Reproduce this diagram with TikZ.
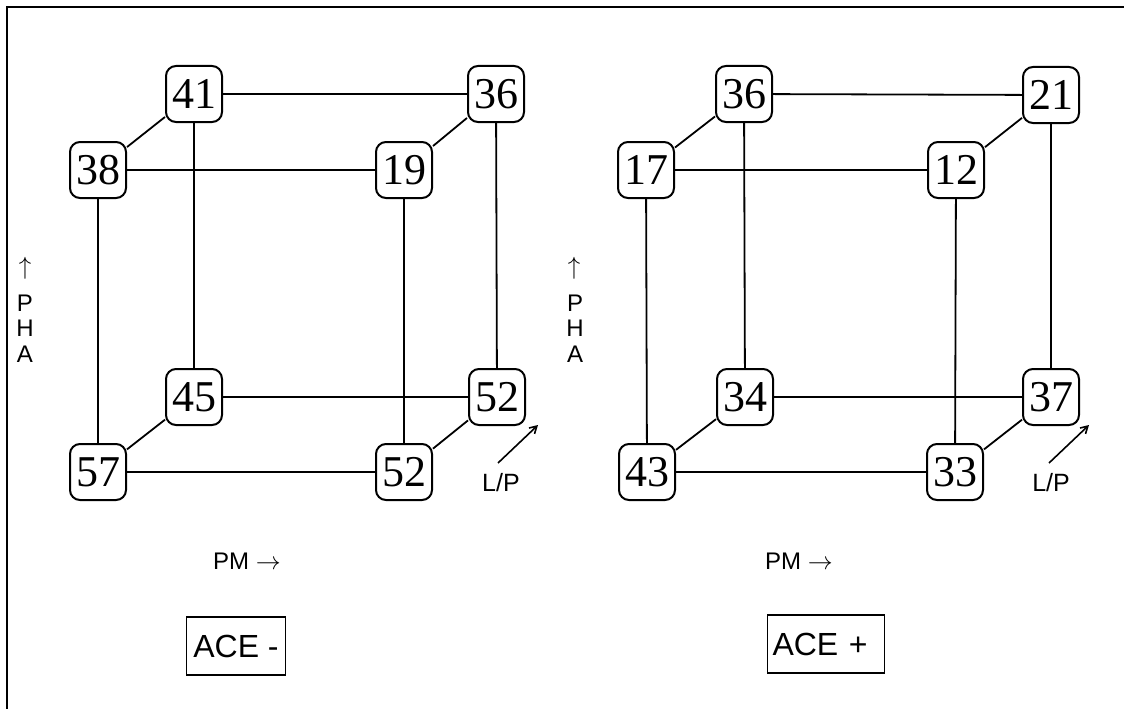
\documentclass[tikz,border=0pt]{standalone}
\usepackage{fontspec}
\setmainfont{Liberation Serif}
\newfontfamily\labelfont{Liberation Sans}
\usetikzlibrary{arrows.meta}
\begin{document}
\begin{tikzpicture}[x=1pt,y=-1pt,
  num/.style={draw, line width=2pt, rounded corners=10pt, minimum width=56pt, minimum height=56pt, inner sep=0pt, font=\fontsize{44}{44}\selectfont},
  edge/.style={line width=1.8pt},
  lbl/.style={font=\labelfont\fontsize{24}{24}\selectfont, inner sep=0pt},
  arr/.style={font=\fontsize{32}{32}\selectfont, inner sep=0pt},
  lparrow/.style={line width=1.6pt, -{Straight Barb[length=7pt,width=8pt]}},
  acebox/.style={draw, line width=1.8pt, minimum height=58pt, inner xsep=5pt, align=left, font=\labelfont\fontsize{32}{32}\selectfont}]
\useasboundingbox (0,0) rectangle (1124,709);
% frame
\draw[line width=2pt] (7,709) -- (7,7) -- (1124,7);

% ---------------- left cube ----------------
\node[num] (a41) at (194,94) {41};
\node[num] (a36) at (496,94) {36};
\node[num] (a38) at (98,170) {38};
\node[num] (a19) at (404,170) {19};
\node[num] (a45) at (194,397) {45};
\node[num] (a52b) at (497,397) {52};
\node[num] (a57) at (98,472) {57};
\node[num] (a52f) at (404,472) {52};
\draw[edge] (a41) -- (a36);
\draw[edge] (a38) -- (a19);
\draw[edge] (a41) -- (a38);
\draw[edge] (a36) -- (a19);
\draw[edge] (a41) -- (a45);
\draw[edge] (a38) -- (a57);
\draw[edge] (a19) -- (a52f);
\draw[edge] (a36) -- (a52b);
\draw[edge] (a45) -- (a52b);
\draw[edge] (a57) -- (a52f);
\draw[edge] (a45) -- (a57);
\draw[edge] (a52b) -- (a52f);

\node[arr] (aup) at (25,268) {$\uparrow$};
\node[lbl] (aP) at (25,303) {P};
\node[lbl] (aH) at (25,328) {H};
\node[lbl] (aA) at (25,354) {A};
\node[lbl, font=\labelfont\fontsize{25}{25}\selectfont] (aLP) at (501,483) {L/P};
\coordinate (aLs) at (498,463);
\coordinate (aLe) at (538,425);
\draw[lparrow] (aLs) -- (aLe);
\node[lbl] (aPM) at (247,561) {PM $\rightarrow$};
\node[acebox, minimum width=99pt] (aACE) at (236,646) {ACE -};

% ---------------- right cube ----------------
\node[num] (b36) at (744,94) {36};
\node[num] (b21) at (1051,95) {21};
\node[num] (b17) at (646,170) {17};
\node[num] (b12) at (956,170) {12};
\node[num] (b34) at (745,397) {34};
\node[num] (b37) at (1051,397) {37};
\node[num] (b43) at (647,472) {43};
\node[num] (b33) at (955,472) {33};
\draw[edge] (b36) -- (b21);
\draw[edge] (b17) -- (b12);
\draw[edge] (b36) -- (b17);
\draw[edge] (b21) -- (b12);
\draw[edge] (b36) -- (b34);
\draw[edge] (b17) -- (b43);
\draw[edge] (b12) -- (b33);
\draw[edge] (b21) -- (b37);
\draw[edge] (b34) -- (b37);
\draw[edge] (b43) -- (b33);
\draw[edge] (b34) -- (b43);
\draw[edge] (b37) -- (b33);

\node[arr] (bup) at (574,268) {$\uparrow$};
\node[lbl] (bP) at (575,303) {P};
\node[lbl] (bH) at (575,328) {H};
\node[lbl] (bA) at (575,354) {A};
\node[lbl, font=\labelfont\fontsize{25}{25}\selectfont] (bLP) at (1051,483) {L/P};
\coordinate (bLs) at (1049,463);
\coordinate (bLe) at (1089,425);
\draw[lparrow] (bLs) -- (bLe);
\node[lbl] (bPM) at (799,561) {PM $\rightarrow$};
\node[acebox, minimum width=117pt, text width=107pt] (bACE) at (826,644) {ACE +};
\end{tikzpicture}
\end{document}
